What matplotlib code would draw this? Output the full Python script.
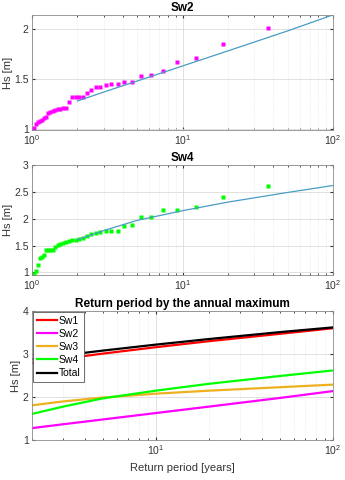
import numpy as np
import matplotlib
matplotlib.use("Agg")
import matplotlib.pyplot as plt
from matplotlib.ticker import LogLocator, NullFormatter, LogFormatterMathtext

plt.rcParams['font.family'] = ['Liberation Sans', 'DejaVu Sans']

# annual maxima, sorted from largest (rank 1) to smallest, 36 years
n_years = 36
sw2_hs = [2.01, 1.85, 1.71, 1.67, 1.58, 1.54, 1.53, 1.47, 1.47, 1.45,
          1.45, 1.44, 1.42, 1.42, 1.39, 1.36, 1.32, 1.32, 1.32, 1.32,
          1.27, 1.21, 1.21, 1.20, 1.20, 1.19, 1.18, 1.17, 1.16, 1.12,
          1.11, 1.09, 1.08, 1.07, 1.05, 1.01]
sw4_hs = [2.61, 2.41, 2.21, 2.17, 2.17, 2.03, 2.03, 1.88, 1.86, 1.78,
          1.78, 1.77, 1.75, 1.73, 1.71, 1.67, 1.65, 1.62, 1.61, 1.60,
          1.58, 1.56, 1.55, 1.53, 1.51, 1.48, 1.42, 1.42, 1.42, 1.41,
          1.33, 1.29, 1.26, 1.14, 1.03, 0.97]

# fitted return levels
T_fit = [2, 3, 5, 10, 20, 50, 100]
fit_sw1 = [2.79, 2.89, 3.01, 3.16, 3.30, 3.47, 3.60]
fit_sw2 = [1.28, 1.37, 1.48, 1.63, 1.78, 1.98, 2.14]
fit_sw3 = [1.81, 1.90, 1.99, 2.08, 2.15, 2.23, 2.29]
fit_sw4 = [1.61, 1.78, 1.97, 2.15, 2.31, 2.49, 2.62]
fit_total = [2.88, 2.97, 3.08, 3.22, 3.35, 3.51, 3.62]

ranks = np.arange(1, n_years + 1)
T_emp = (n_years + 1) / ranks

fit_color = '#4a9cc4'
tick_color = '#333333'


def style_axes(ax):
    ax.set_xscale('log')
    ax.xaxis.set_major_locator(LogLocator(base=10))
    ax.xaxis.set_minor_locator(LogLocator(base=10, subs=np.arange(2, 10)))
    ax.xaxis.set_minor_formatter(NullFormatter())
    ax.xaxis.set_major_formatter(LogFormatterMathtext())
    ax.grid(True, which='major', color='#dcdcdc', lw=0.6)
    ax.grid(True, which='minor', axis='x', color='#e2e2e2', lw=0.5, ls=':')
    ax.set_axisbelow(True)
    ax.tick_params(which='both', direction='in', top=True, right=True,
                   labelsize=7.5, colors=tick_color, length=2.5, pad=2.5)
    ax.tick_params(which='minor', length=1.5)
    for s in ax.spines.values():
        s.set_color('#8c8c8c')
        s.set_linewidth(0.6)
    ax.set_ylabel('Hs [m]', fontsize=8, color=tick_color, labelpad=1)


fig = plt.figure(figsize=(3.45, 4.8), dpi=100)

# Sw2
ax1 = fig.add_axes([0.093, 0.729, 0.872, 0.240])
ax1.plot(T_emp, sw2_hs, 's', color='#ff00ff', ms=2.4, mec='none')
ax1.plot(T_fit, fit_sw2, color=fit_color, lw=0.9)
ax1.set_xlim(1, 100)
ax1.set_ylim(0.99, 2.14)
ax1.set_yticks([1, 1.5, 2])
ax1.set_yticklabels(['1', '1.5', '2'])
style_axes(ax1)
ax1.set_title('Sw2', fontsize=8.5, fontweight='bold', pad=3)

# Sw4
ax2 = fig.add_axes([0.093, 0.427, 0.872, 0.229])
ax2.plot(T_emp, sw4_hs, 's', color='#00ff00', ms=2.4, mec='none')
ax2.plot(T_fit, fit_sw4, color=fit_color, lw=0.9)
ax2.set_xlim(1, 100)
ax2.set_ylim(0.95, 3)
ax2.set_yticks([1, 1.5, 2, 2.5, 3])
ax2.set_yticklabels(['1', '1.5', '2', '2.5', '3'])
style_axes(ax2)
ax2.set_title('Sw4', fontsize=8.5, fontweight='bold', pad=3)

# return periods
ax3 = fig.add_axes([0.093, 0.083, 0.872, 0.269])
ax3.plot(T_fit, fit_sw1, color='#ff0000', lw=1.6, label='Sw1')
ax3.plot(T_fit, fit_sw2, color='#ff00ff', lw=1.6, label='Sw2')
ax3.plot(T_fit, fit_sw3, color='#edb120', lw=1.6, label='Sw3')
ax3.plot(T_fit, fit_sw4, color='#00ff00', lw=1.6, label='Sw4')
ax3.plot(T_fit, fit_total, color='#000000', lw=1.6, label='Total')
ax3.set_xlim(2, 100)
ax3.set_ylim(1, 4)
ax3.set_yticks([1, 2, 3, 4])
style_axes(ax3)
ax3.set_title('Return period by the annual maximum', fontsize=8.5,
              fontweight='bold', pad=3)
ax3.set_xlabel('Return period [years]', fontsize=8, color=tick_color)
leg = ax3.legend(loc='upper left', fontsize=7.5, frameon=True, fancybox=False,
                 framealpha=1, borderpad=0.35, labelspacing=0.3,
                 handlelength=1.9, handletextpad=0.2, borderaxespad=0.1)
leg.get_frame().set_edgecolor('#555555')
leg.get_frame().set_linewidth(0.6)

fig.savefig('out.png', dpi=100)
